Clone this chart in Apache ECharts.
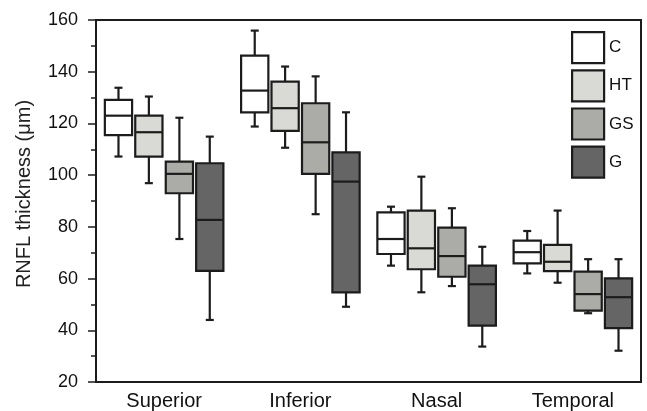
<!DOCTYPE html>
<html>
<head>
<meta charset="utf-8">
<script src="https://cdn.jsdelivr.net/npm/echarts@6/dist/echarts.min.js"></script>
<style>
  html, body { margin: 0; padding: 0; background: #fff; }
  #main { width: 647px; height: 411px; }
</style>
</head>
<body>
<div id="main"></div>
<script>
// categories on the x axis
var regions = ['Superior', 'Inferior', 'Nasal', 'Temporal'];
var groups = ['C', 'HT', 'GS', 'G'];
// each row: [low whisker, Q1, median, Q3, high whisker] per region
var cStats  = [[107.2, 115.5, 123.0, 129.1, 133.8], [118.8, 124.3, 132.7, 146.2, 155.9], [65.0, 69.5, 75.3, 85.6, 87.8], [62.0, 65.9, 70.2, 74.7, 78.4]];
var htStats = [[96.9, 107.2, 116.6, 123.0, 130.4], [110.6, 117.1, 125.9, 136.2, 142.0], [54.7, 63.6, 71.7, 86.3, 99.4], [58.4, 62.9, 66.5, 73.0, 86.3]];
var gsStats = [[75.3, 93.0, 100.5, 105.2, 122.2], [84.9, 100.5, 112.7, 127.8, 138.2], [57.1, 60.7, 68.7, 79.7, 87.2], [46.6, 47.6, 54.0, 62.7, 67.5]];
var gStats  = [[44.0, 63.0, 82.7, 104.6, 114.9], [49.1, 54.7, 97.5, 108.8, 124.3], [33.7, 41.8, 57.8, 65.0, 72.3], [32.1, 40.8, 52.8, 60.1, 67.5]];
var yTicks = [20, 40, 60, 80, 100, 120, 140, 160];

var allStats = [cStats, htStats, gsStats, gStats];
var fills = ['#ffffff', '#d9dad5', '#abaca7', '#656565'];
var offsets = [-0.335, -0.112, 0.112, 0.335];
var ink = '#1c1c1c';

function boxRenderer(offset, fill) {
  return function (params, api) {
    var cat = api.value(0);
    var band = api.size([1, 0])[0];
    var cx = api.coord([cat, 0])[0] + offset * band;
    var half = band * 0.1;
    var cap = 4;
    var yLow = api.coord([cat, api.value(1)])[1];
    var yQ1 = api.coord([cat, api.value(2)])[1];
    var yMed = api.coord([cat, api.value(3)])[1];
    var yQ3 = api.coord([cat, api.value(4)])[1];
    var yHigh = api.coord([cat, api.value(5)])[1];
    var ls = { stroke: ink, lineWidth: 2.2, fill: null };
    return {
      type: 'group',
      children: [
        { type: 'line', shape: { x1: cx, y1: yHigh, x2: cx, y2: yQ3 }, style: ls },
        { type: 'line', shape: { x1: cx, y1: yQ1, x2: cx, y2: yLow }, style: ls },
        { type: 'line', shape: { x1: cx - cap, y1: yHigh, x2: cx + cap, y2: yHigh }, style: ls },
        { type: 'line', shape: { x1: cx - cap, y1: yLow, x2: cx + cap, y2: yLow }, style: ls },
        { type: 'rect', shape: { x: cx - half, y: yQ3, width: half * 2, height: yQ1 - yQ3 },
          style: { fill: fill, stroke: ink, lineWidth: 2.2 } },
        { type: 'line', shape: { x1: cx - half, y1: yMed, x2: cx + half, y2: yMed }, style: ls }
      ]
    };
  };
}

var series = groups.map(function (name, i) {
  return {
    name: name,
    type: 'custom',
    itemStyle: { color: fills[i], borderColor: ink, borderWidth: 2 },
    renderItem: boxRenderer(offsets[i], fills[i]),
    encode: { x: 0, y: [1, 2, 3, 4, 5] },
    data: allStats[i].map(function (s, k) { return [k].concat(s); })
  };
});

var chart = echarts.init(document.getElementById('main'));
chart.setOption({
  animation: false,
  textStyle: { fontFamily: 'Liberation Sans, Arial, sans-serif' },
  grid: { left: 96, right: 6, top: 20, bottom: 29, show: true, borderColor: ink, borderWidth: 2 },
  legend: {
    data: groups,
    orient: 'vertical',
    left: 566,
    top: 26,
    icon: 'rect',
    itemWidth: 32,
    itemHeight: 31,
    itemGap: 5,
    itemStyle: { borderColor: ink, borderWidth: 2.2 },
    textStyle: { fontSize: 17, color: '#111' }
  },
  xAxis: {
    type: 'category',
    data: regions,
    axisLine: { lineStyle: { color: ink, width: 2 } },
    axisTick: { alignWithLabel: true, length: 4, lineStyle: { color: ink, width: 1.5 } },
    axisLabel: { fontSize: 20, color: '#111', margin: 9 }
  },
  yAxis: {
    type: 'value',
    min: yTicks[0],
    max: yTicks[yTicks.length - 1],
    interval: 20,
    name: 'RNFL thickness (μm)',
    nameLocation: 'middle',
    nameGap: 62,
    nameTextStyle: { fontSize: 20, color: '#222', padding: [0, 0, 0, 14] },
    axisLine: { show: true, lineStyle: { color: ink, width: 2 } },
    axisTick: { show: true, length: 8, lineStyle: { color: ink, width: 1.5 } },
    minorTick: { show: true, splitNumber: 2, length: 5, lineStyle: { color: ink, width: 1.5 } },
    splitLine: { show: false },
    axisLabel: { fontSize: 18, color: '#111', margin: 18 }
  },
  series: series
});
</script>
</body>
</html>
